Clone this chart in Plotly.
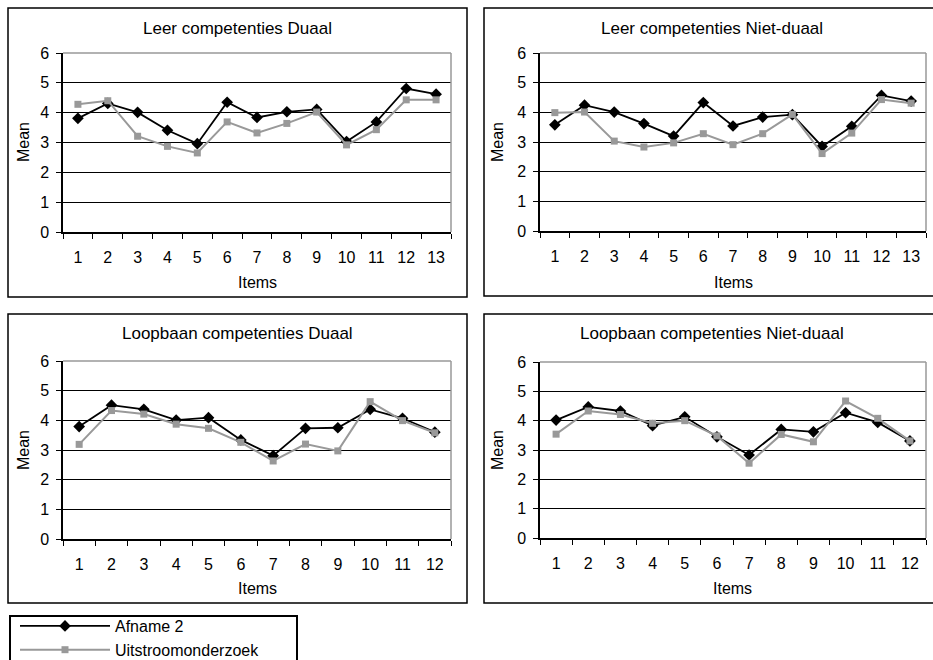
import plotly.graph_objects as go

# ---------------- data ----------------
items_leer = [str(i) for i in range(1, 14)]
items_loop = [str(i) for i in range(1, 13)]

leer_duaal_afname2 = [3.81, 4.31, 4.01, 3.41, 2.96, 4.35, 3.84, 4.03, 4.11, 3.03, 3.69, 4.81, 4.62]
leer_duaal_uitstroom = [4.28, 4.40, 3.21, 2.87, 2.65, 3.69, 3.32, 3.64, 4.02, 2.92, 3.43, 4.43, 4.43]

leer_nietduaal_afname2 = [3.58, 4.24, 4.01, 3.62, 3.20, 4.33, 3.54, 3.84, 3.92, 2.85, 3.53, 4.57, 4.38]
leer_nietduaal_uitstroom = [3.99, 4.01, 3.03, 2.83, 2.97, 3.28, 2.91, 3.28, 3.93, 2.61, 3.30, 4.43, 4.31]

loop_duaal_afname2 = [3.79, 4.51, 4.37, 4.01, 4.09, 3.34, 2.81, 3.73, 3.75, 4.37, 4.07, 3.60]
loop_duaal_uitstroom = [3.19, 4.33, 4.21, 3.87, 3.73, 3.26, 2.63, 3.20, 2.97, 4.63, 3.99, 3.58]

loop_nietduaal_afname2 = [4.02, 4.47, 4.33, 3.83, 4.13, 3.45, 2.83, 3.70, 3.62, 4.27, 3.94, 3.31]
loop_nietduaal_uitstroom = [3.54, 4.33, 4.21, 3.91, 4.00, 3.48, 2.55, 3.53, 3.28, 4.67, 4.08, 3.31]

titles = ["Leer competenties Duaal", "Leer competenties Niet-duaal",
          "Loopbaan competenties Duaal", "Loopbaan competenties Niet-duaal"]
series_names = ["Afname 2", "Uitstroomonderzoek"]
y_title = "Mean"
x_title = "Items"
y_ticks = [0, 1, 2, 3, 4, 5, 6]

# ---------------- layout helpers ----------------
W, H = 933, 660
FONT = "Arial, Liberation Sans, sans-serif"
BLACK = "#000000"
GRAY = "#999999"


def fx(x):
    return x / W


def fy(y):
    return 1 - y / H


panels = [
    dict(title=titles[0], items=items_leer, a=leer_duaal_afname2, u=leer_duaal_uitstroom,
         plot=(63, 451, 53, 232), box=(8, 467, 8, 297), t=(237, 28), m=(24, 142), it=(257, 283)),
    dict(title=titles[1], items=items_leer, a=leer_nietduaal_afname2, u=leer_nietduaal_uitstroom,
         plot=(540, 926, 53, 231), box=(484, 945, 8, 296), t=(712, 28), m=(498, 142), it=(733, 282)),
    dict(title=titles[2], items=items_loop, a=loop_duaal_afname2, u=loop_duaal_uitstroom,
         plot=(63, 451, 361, 539), box=(8, 467, 314, 603), t=(237, 333), m=(24, 450), it=(257, 588)),
    dict(title=titles[3], items=items_loop, a=loop_nietduaal_afname2, u=loop_nietduaal_uitstroom,
         plot=(540, 926, 362, 538), box=(484, 945, 314, 603), t=(712, 333), m=(498, 450), it=(732, 588)),
]

fig = go.Figure()
layout = dict(
    template="none",
    width=W, height=H,
    margin=dict(l=0, r=0, t=0, b=0, autoexpand=False),
    paper_bgcolor="white", plot_bgcolor="white",
    font=dict(family=FONT, color=BLACK, size=16),
    showlegend=True,
    legend=dict(xref="container", yref="container", x=fx(15), xanchor="left",
                y=fy(609), yanchor="top",
                bgcolor="rgba(0,0,0,0)", borderwidth=0, itemwidth=90,
                font=dict(size=16, family=FONT), tracegroupgap=0),
)
shapes = []
annotations = []

for i, p in enumerate(panels):
    n = i + 1
    xa = "x" if n == 1 else f"x{n}"
    ya = "y" if n == 1 else f"y{n}"
    xl = "xaxis" if n == 1 else f"xaxis{n}"
    yl = "yaxis" if n == 1 else f"yaxis{n}"
    x0, x1, y0, y1 = p["plot"]

    fig.add_trace(go.Scatter(
        x=p["items"], y=p["a"], xaxis=xa, yaxis=ya, mode="lines+markers",
        name=series_names[0], legendgroup="a", showlegend=(n == 1),
        line=dict(color=BLACK, width=1.8),
        marker=dict(symbol="diamond", size=9, color=BLACK),
        hoverinfo="skip"))
    fig.add_trace(go.Scatter(
        x=p["items"], y=p["u"], xaxis=xa, yaxis=ya, mode="lines+markers",
        name=series_names[1], legendgroup="u", showlegend=(n == 1),
        line=dict(color=GRAY, width=2),
        marker=dict(symbol="square", size=7, color=GRAY),
        hoverinfo="skip"))

    layout[xl] = dict(
        domain=[fx(x0), fx(x1)], anchor=ya, type="category", automargin=False,
        range=[-0.5, len(p["items"]) - 0.5],
        showline=True, linecolor=BLACK, linewidth=1.5,
        ticks="outside", ticklen=5, tickwidth=1, tickcolor=BLACK,
        tickson="boundaries", showgrid=False, zeroline=False,
        tickfont=dict(size=16), ticklabelstandoff=10, fixedrange=True)
    layout[yl] = dict(
        domain=[fy(y1), fy(y0)], anchor=xa, range=[0, 6], automargin=False,
        tickmode="array", tickvals=y_ticks,
        showline=True, linecolor=BLACK, linewidth=1.5,
        ticks="outside", ticklen=5, tickwidth=1, tickcolor=BLACK,
        showgrid=True, gridcolor=BLACK, gridwidth=1, zeroline=False,
        tickfont=dict(size=16), ticklabelstandoff=4, fixedrange=True)

    # gray plot-area border (top and right)
    shapes.append(dict(type="line", xref=f"{xa} domain", yref=f"{ya} domain",
                       x0=0, x1=1, y0=1, y1=1, line=dict(color=GRAY, width=1.5), layer="above"))
    shapes.append(dict(type="line", xref=f"{xa} domain", yref=f"{ya} domain",
                       x0=1, x1=1, y0=0, y1=1, line=dict(color=GRAY, width=1.5), layer="above"))
    # chart frame
    bx0, bx1, by0, by1 = p["box"]
    shapes.append(dict(type="rect", xref="paper", yref="paper",
                       x0=fx(bx0), x1=fx(bx1), y0=fy(by1), y1=fy(by0),
                       line=dict(color=BLACK, width=1.5), fillcolor="rgba(0,0,0,0)", layer="below"))

    annotations.append(dict(text=p["title"], xref="paper", yref="paper",
                            x=fx(p["t"][0]), y=fy(p["t"][1]), xanchor="center", yanchor="middle",
                            showarrow=False, font=dict(size=17)))
    annotations.append(dict(text=y_title, xref="paper", yref="paper",
                            x=fx(p["m"][0]), y=fy(p["m"][1]), xanchor="center", yanchor="middle",
                            textangle=-90, showarrow=False, font=dict(size=16)))
    annotations.append(dict(text=x_title, xref="paper", yref="paper",
                            x=fx(p["it"][0]), y=fy(p["it"][1]), xanchor="center", yanchor="middle",
                            showarrow=False, font=dict(size=16)))

# legend frame
shapes.append(dict(type="rect", xref="paper", yref="paper",
                   x0=fx(10), x1=fx(297), y0=fy(665), y1=fy(616),
                   line=dict(color=BLACK, width=2), fillcolor="rgba(0,0,0,0)", layer="below"))

layout["shapes"] = shapes
layout["annotations"] = annotations
fig.update_layout(**layout)

fig.write_html("out.html", config=dict(displayModeBar=False),
               post_script="document.body.style.margin='0';document.body.style.overflow='hidden';")
